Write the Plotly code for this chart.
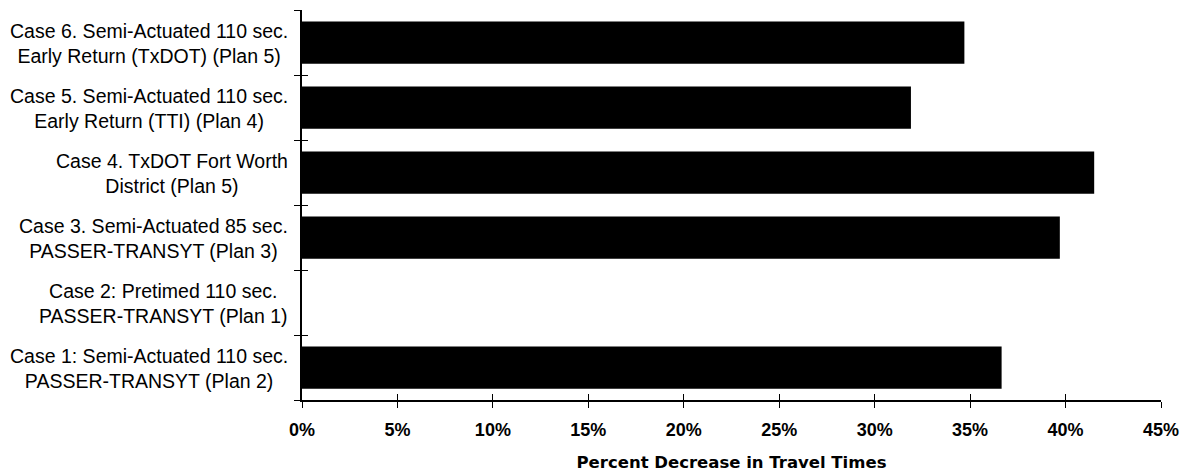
import plotly.graph_objects as go

categories = [
    "Case 1: Semi-Actuated 110 sec.<br>PASSER-TRANSYT (Plan 2)",
    "Case 2: Pretimed 110 sec.<br>PASSER-TRANSYT (Plan 1)",
    "Case 3. Semi-Actuated 85 sec.<br>PASSER-TRANSYT (Plan 3)",
    "Case 4. TxDOT Fort Worth<br>District (Plan 5)",
    "Case 5. Semi-Actuated 110 sec.<br>Early Return (TTI) (Plan 4)",
    "Case 6. Semi-Actuated 110 sec.<br>Early Return (TxDOT) (Plan 5)",
]
values = [0.3665, 0.0, 0.397, 0.415, 0.319, 0.347]
x_ticks = [0, 0.05, 0.10, 0.15, 0.20, 0.25, 0.30, 0.35, 0.40, 0.45]
x_tick_labels = ["0%", "5%", "10%", "15%", "20%", "25%", "30%", "35%", "40%", "45%"]
x_title = "Percent Decrease in Travel Times"

fig = go.Figure()
fig.add_trace(go.Bar(
    y=categories, x=values, orientation="h",
    marker=dict(color="black", line=dict(width=0)),
    width=0.65, showlegend=False, hoverinfo="x+y",
))

for cat in categories:
    fig.add_annotation(
        x=0, xref="paper", y=cat, yref="y",
        text=cat, showarrow=False, xanchor="right", yanchor="middle",
        align="center", xshift=-12, yshift=-1,
        font=dict(family="Liberation Sans, Arial", size=19.5, color="black"),
    )

fig.update_layout(
    width=1189, height=475,
    margin=dict(l=294, r=36, t=2, b=83),
    plot_bgcolor="white", paper_bgcolor="white",
    bargap=0.35,
    xaxis=dict(
        range=[0, 0.45], tickvals=x_ticks, ticktext=x_tick_labels,
        showgrid=False, zeroline=False, showline=True, linecolor="black", linewidth=1.5,
        ticks="outside", ticklen=6, tickcolor="black", tickwidth=1.2,
        tickfont=dict(family="Liberation Sans, Arial", size=18, color="black", weight="bold"),
        ticklabelstandoff=7,
        title=dict(text="<b>" + x_title + "</b>", standoff=17,
                   font=dict(family="DejaVu Sans", size=16.5, color="black")),
        fixedrange=True,
    ),
    yaxis=dict(
        type="category", categoryorder="array", categoryarray=categories,
        range=[-0.5, 5.5], showticklabels=False,
        tickson="boundaries", ticks="outside", ticklen=6, tickcolor="black", tickwidth=1.2,
        showgrid=False, zeroline=False, showline=True, linecolor="black", linewidth=1.5,
        fixedrange=True,
    ),
    xaxis2=dict(
        overlaying="x", matches="x", range=[0, 0.45], tickvals=x_ticks, showticklabels=False,
        ticks="inside", ticklen=6, tickcolor="black", tickwidth=1.2,
        showgrid=False, zeroline=False, showline=False, side="bottom",
    ),
    yaxis2=dict(
        overlaying="y", range=[-0.5, 5.5], tickvals=[-0.5, 0.5, 1.5, 2.5, 3.5, 4.5, 5.5],
        showticklabels=False, ticks="inside", ticklen=6, tickcolor="black", tickwidth=1.2,
        showgrid=False, zeroline=False, showline=False, side="left",
    ),
)

fig.add_trace(go.Scatter(x=[0], y=[0], xaxis="x2", yaxis="y2", mode="markers",
                         marker=dict(opacity=0), showlegend=False, hoverinfo="skip"))

fig.write_html("out.html")
